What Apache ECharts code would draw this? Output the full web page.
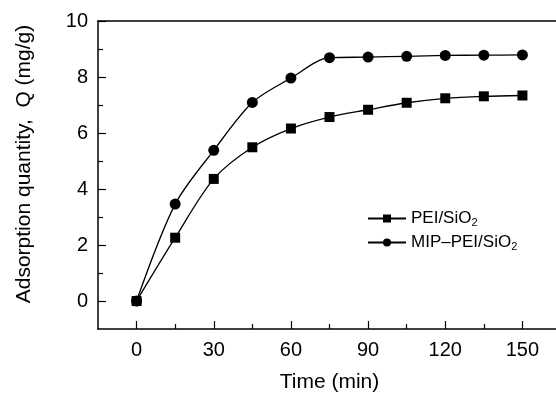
<!DOCTYPE html>
<html>
<head>
<meta charset="utf-8">
<script src="https://cdn.jsdelivr.net/npm/echarts@6/dist/echarts.min.js"></script>
<style>
  html, body { margin: 0; padding: 0; background: #fff; }
  #chart { width: 556px; height: 397px; }
</style>
</head>
<body>
<div id="chart"></div>
<script>
const times = [0, 15, 30, 45, 60, 75, 90, 105, 120, 135, 150];
const peiSio2 = [0, 2.26, 4.36, 5.49, 6.16, 6.57, 6.83, 7.08, 7.24, 7.31, 7.34];
const mipPeiSio2 = [0, 3.46, 5.38, 7.09, 7.96, 8.69, 8.71, 8.74, 8.77, 8.78, 8.79];

const xMajor = [0, 30, 60, 90, 120, 150];
const xMinor = [15, 45, 75, 105, 135];
const yMajor = [0, 2, 4, 6, 8, 10];
const yMinor = [1, 3, 5, 7, 9];

const FONT = "'Liberation Sans', Arial, sans-serif";

const chart = echarts.init(document.getElementById("chart"));

const pairs = (ys) => times.map((t, i) => [t, ys[i]]);

const option = {
  animation: false,
  grid: {
    left: 98,
    right: -5,
    top: 21,
    bottom: 68,
    outerBoundsMode: "none",
    containLabel: false,
  },
  legend: {
    orient: "vertical",
    left: 362,
    top: 205,
    itemWidth: 38,
    itemHeight: 10,
    itemGap: 6,
    data: ["PEI/SiO2", "MIP–PEI/SiO2"],
    formatter: (name) => `{a|${name.slice(0, -1)}}{s|2}`,
    textStyle: {
      color: "#000",
      fontFamily: FONT,
      rich: {
        a: { fontSize: 17, fontFamily: FONT, color: "#000" },
        s: { fontSize: 11, fontFamily: FONT, color: "#000", verticalAlign: "bottom", padding: [8, 0, 0, 0] },
      },
    },
  },
  xAxis: [
    {
      type: "value",
      min: -15,
      max: 165,
      name: "Time (min)",
      nameLocation: "middle",
      nameGap: 43,
      nameTextStyle: { fontSize: 21, fontFamily: FONT, color: "#000" },
      axisLine: { onZero: false, lineStyle: { color: "#000", width: 1.5 } },
      axisTick: { inside: true, length: 8, customValues: xMajor, lineStyle: { color: "#000", width: 1.2 } },
      axisLabel: { customValues: xMajor, fontSize: 20, fontFamily: FONT, color: "#000", margin: 11 },
      splitLine: { show: false },
    },
    {
      type: "value",
      position: "bottom",
      min: -15,
      max: 165,
      axisLine: { show: false, onZero: false },
      axisTick: { inside: true, length: 5, customValues: xMinor, lineStyle: { color: "#000", width: 1.2 } },
      axisLabel: { show: false },
      splitLine: { show: false },
    },
    {
      type: "value",
      position: "top",
      min: -15,
      max: 165,
      axisLine: { show: true, onZero: false, lineStyle: { color: "#000", width: 1.5 } },
      axisTick: { show: false },
      axisLabel: { show: false },
      splitLine: { show: false },
    },
  ],
  yAxis: [
    {
      type: "value",
      min: -1,
      max: 10,
      name: "Adsorption quantity,  Q (mg/g)",
      nameLocation: "middle",
      nameGap: 63,
      nameTextStyle: { fontSize: 21, fontFamily: FONT, color: "#000", padding: [0, 0, 0, 22] },
      axisLine: { onZero: false, lineStyle: { color: "#000", width: 1.5 } },
      axisTick: { inside: true, length: 8, customValues: yMajor, lineStyle: { color: "#000", width: 1.2 } },
      axisLabel: { customValues: yMajor, fontSize: 20, fontFamily: FONT, color: "#000", margin: 10 },
      splitLine: { show: false },
    },
    {
      type: "value",
      position: "left",
      min: -1,
      max: 10,
      axisLine: { show: false, onZero: false },
      axisTick: { inside: true, length: 5, customValues: yMinor, lineStyle: { color: "#000", width: 1.2 } },
      axisLabel: { show: false },
      splitLine: { show: false },
    },
  ],
  series: [
    {
      name: "PEI/SiO2",
      type: "line",
      data: pairs(peiSio2),
      smooth: 0.3,
      symbol: "rect",
      symbolSize: 10,
      lineStyle: { color: "#000", width: 1.3 },
      itemStyle: { color: "#000" },
    },
    {
      name: "MIP–PEI/SiO2",
      type: "line",
      data: pairs(mipPeiSio2),
      smooth: 0.3,
      symbol: "circle",
      symbolSize: 11,
      lineStyle: { color: "#000", width: 1.3 },
      itemStyle: { color: "#000" },
    },
  ],
};

chart.setOption(option);
</script>
</body>
</html>
